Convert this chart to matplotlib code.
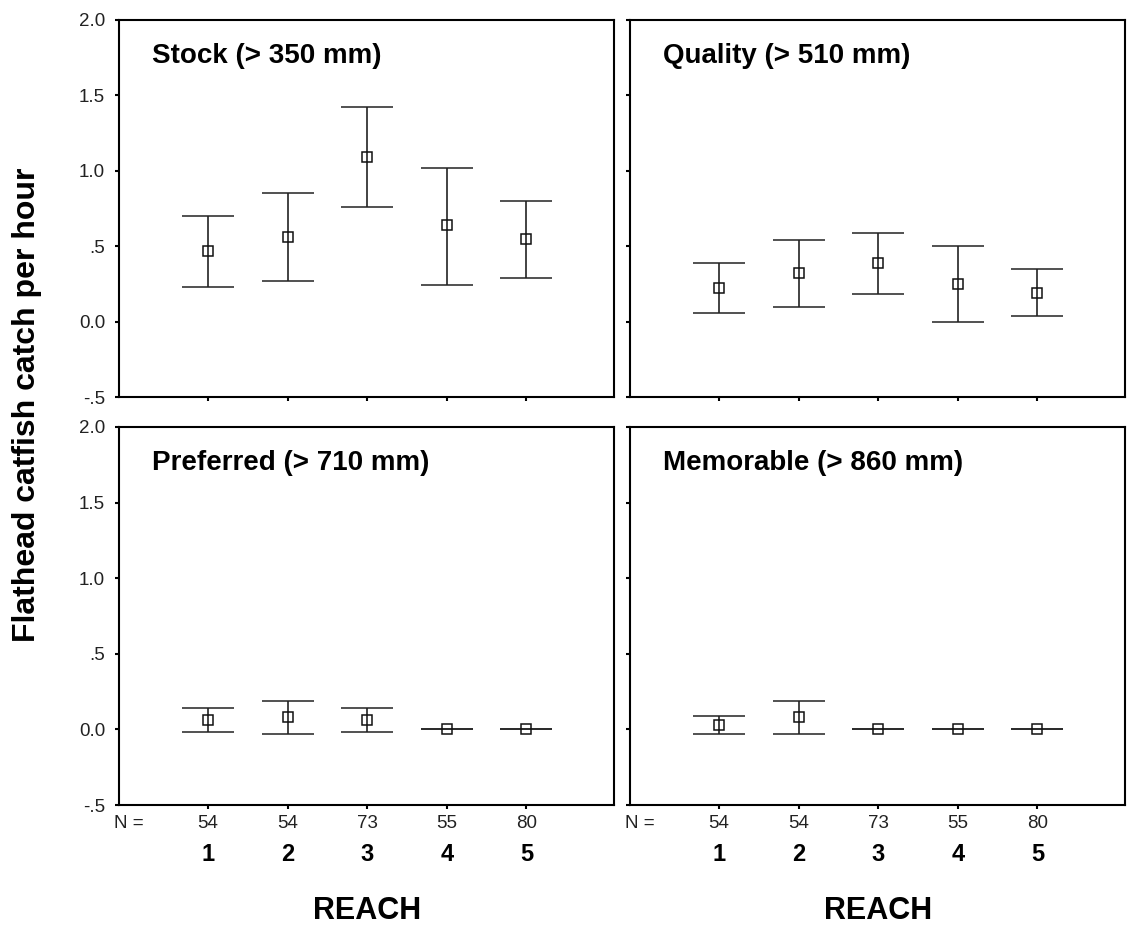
#Error bar panels: flathead catfish catch per hour by reach and size class.
import numpy as np
import matplotlib
matplotlib.use("Agg")
import matplotlib.pyplot as plt

plt.rcParams["font.family"] = ["Liberation Sans", "DejaVu Sans"]

reach = [1, 2, 3, 4, 5]
n_counts = [54, 54, 73, 55, 80]
y_ticks = [2.0, 1.5, 1.0, 0.5, 0.0, -0.5]
y_tick_labels = ["2.0", "1.5", "1.0", ".5", "0.0", "-.5"]

stock_mean = [0.47, 0.56, 1.09, 0.64, 0.545]
stock_lo = [0.23, 0.27, 0.76, 0.245, 0.29]
stock_hi = [0.70, 0.85, 1.42, 1.02, 0.80]

quality_mean = [0.22, 0.32, 0.39, 0.25, 0.19]
quality_lo = [0.06, 0.10, 0.18, 0.00, 0.035]
quality_hi = [0.39, 0.54, 0.59, 0.50, 0.35]

preferred_mean = [0.064, 0.08, 0.064, 0.0, 0.0]
preferred_lo = [-0.017, -0.03, -0.017, 0.0, 0.0]
preferred_hi = [0.14, 0.19, 0.14, 0.0, 0.0]

memorable_mean = [0.03, 0.08, 0.0, 0.0, 0.0]
memorable_lo = [-0.03, -0.03, 0.0, 0.0, 0.0]
memorable_hi = [0.09, 0.19, 0.0, 0.0, 0.0]

panels = [
    ("Stock (> 350 mm)", stock_mean, stock_lo, stock_hi),
    ("Quality (> 510 mm)", quality_mean, quality_lo, quality_hi),
    ("Preferred (> 710 mm)", preferred_mean, preferred_lo, preferred_hi),
    ("Memorable (> 860 mm)", memorable_mean, memorable_lo, memorable_hi),
]

W, H = 1127, 931
fig = plt.figure(figsize=(W / 100, H / 100), dpi=100)

# axes boxes in pixels: (left, top, right, bottom)
boxes = [(119, 20, 614, 397), (630, 20, 1125, 397),
         (119, 427, 614, 805), (630, 427, 1125, 805)]

for i, (title, mean, lo, hi) in enumerate(panels):
    l, t, r, b = boxes[i]
    ax = fig.add_axes([l / W, 1 - b / H, (r - l) / W, (b - t) / H])
    mean = np.array(mean)
    yerr = [mean - np.array(lo), np.array(hi) - mean]
    ax.errorbar(reach, mean, yerr=yerr, fmt="s", color="#222222", mfc="none",
                mec="#111111", ms=6.5, mew=1.1, elinewidth=1.2, capsize=19,
                capthick=1.2, ecolor="#222222")

    ax.set_xlim(-0.12, 6.1)
    ax.set_ylim(-0.5, 2.0)
    ax.set_yticks(y_ticks)
    ax.set_xticks(reach)
    ax.tick_params(direction="out", length=3, width=1.5, color="black",
                   labelsize=13.5, pad=7)
    for s in ax.spines.values():
        s.set_linewidth(1.5)

    if i % 2 == 0:
        ax.set_yticklabels(y_tick_labels, color="#222222")
    else:
        ax.set_yticklabels([])

    ax.text(0.067, 0.905, title, transform=ax.transAxes, fontsize=20,
            fontweight="bold", ha="left", va="center")

    ax.set_xticklabels([])
    if i >= 2:
        tr = ax.get_xaxis_transform()
        ax.text(0, -0.048, "N =", transform=tr, ha="center", va="center",
                fontsize=13.5, color="#222222")
        for x, n in zip(reach, n_counts):
            ax.text(x, -0.048, str(n), transform=tr, ha="center", va="center",
                    fontsize=13.5, color="#222222")
            ax.text(x, -0.132, str(x), transform=tr, ha="center", va="center",
                    fontsize=17, fontweight="bold")
        ax.text(3, -0.28, "REACH", transform=tr, ha="center", va="center",
                fontsize=22, fontweight="bold")

fig.text(27 / W, 1 - 405 / H, "Flathead catfish catch per hour", rotation=90,
         ha="center", va="center", fontsize=23, fontweight="bold")

fig.savefig("out.png", dpi=100, facecolor="white")
